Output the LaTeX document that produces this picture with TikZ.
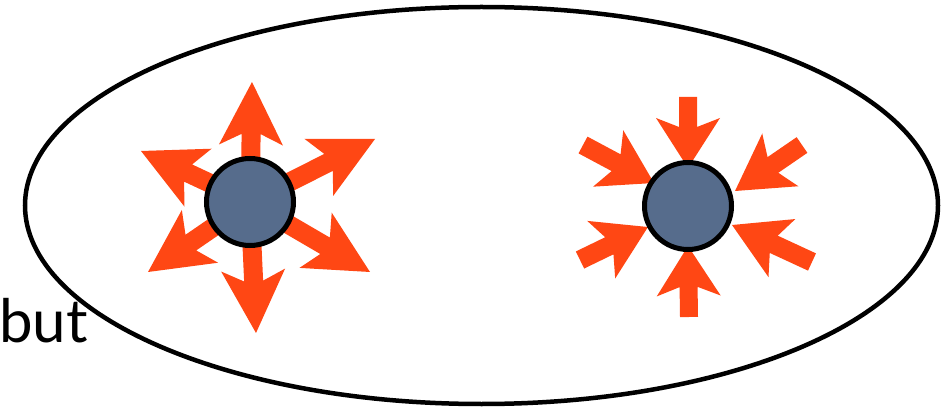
\documentclass[tikz,border=0pt]{standalone}
\usepackage{fontspec}
\setmainfont{Lato}
\definecolor{arrowred}{HTML}{FF4714}
\definecolor{ballblue}{HTML}{566C8C}
\tikzset{
  arrowfill/.style={fill=arrowred},
  ball/.style={circle, draw=black, line width=5pt, fill=ballblue, minimum size=87pt, inner sep=0pt},
  outline/.style={draw=black, line width=4.5pt},
}
% #1,#2 tail (image px), #3,#4 tip (image px), #5 head length, #6 head half width, #7 shaft half width, #8 inset
\newcommand\myarrow[8]{%
  \pgfmathsetmacro\myang{atan2(-(#4-#2),#3-#1)}%
  \pgfmathsetmacro\mylen{veclen(#3-#1,#4-#2)}%
  \begin{scope}[shift={(#1,410-#2)},rotate=\myang]
    \fill[arrowfill] (0,#7) -- (\mylen-#5+#8,#7) -- (\mylen-#5,#6) -- (\mylen,0)
      -- (\mylen-#5,-#6) -- (\mylen-#5+#8,-#7) -- (0,-#7) -- cycle;
  \end{scope}}
\begin{document}
\begin{tikzpicture}[x=1pt,y=1pt]
\useasboundingbox (0,0) rectangle (950,410);
% big ellipse
\draw[outline] (481.5,204.5) ellipse [x radius=456.5, y radius=198.5];
% left: outward arrows
\myarrow{250}{202}{252}{82}{63}{32}{9.5}{11}
\myarrow{250}{202}{375}{139}{63}{32}{9.5}{11}
\myarrow{250}{202}{370}{272}{63}{32}{9.5}{11}
\myarrow{250}{202}{256}{333}{63}{32}{9.5}{11}
\myarrow{250}{202}{148}{272}{63}{32}{9.5}{11}
\myarrow{250}{202}{141}{151}{63}{32}{9.5}{11}
\node[ball] (left) at (250,208) {};
% right: inward arrows
\myarrow{688}{97}{688}{168}{50}{32}{9}{9}
\myarrow{802}{145}{735}{191}{55}{32}{9.5}{9}
\myarrow{812}{262}{732}{225}{55}{32}{9.5}{9}
\myarrow{689}{317}{688}{246}{50}{32}{9}{9}
\myarrow{580}{260}{648}{227}{52}{32}{9.5}{9}
\myarrow{583}{145}{654}{183}{52}{32}{9.5}{9}
\node[ball] (right) at (688,204) {};
% text
\node[anchor=base west, inner sep=0pt, font=\fontsize{60}{66}\selectfont] (but) at (-1,68) {but};
\end{tikzpicture}
\end{document}
